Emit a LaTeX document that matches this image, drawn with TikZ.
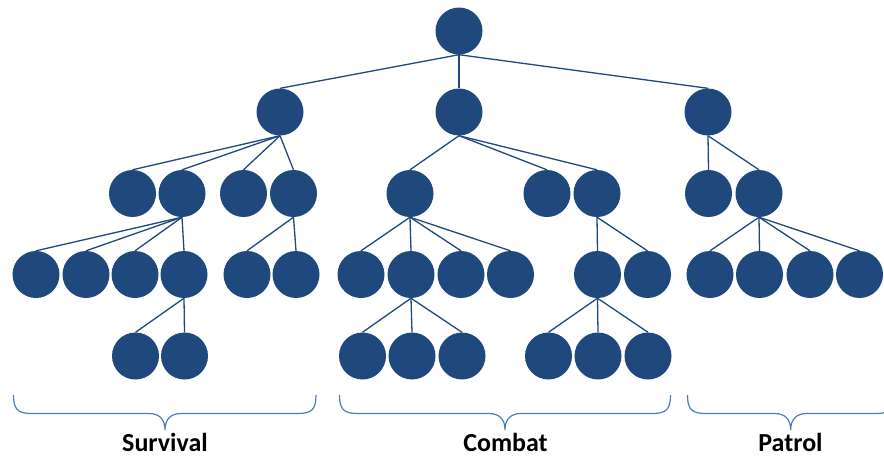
\documentclass[tikz,border=0pt]{standalone}
\usepackage{fontspec}
\setmainfont{Carlito}
\definecolor{nodeblue}{HTML}{1F497D}
\definecolor{bracblue}{HTML}{4A7EBB}
\tikzset{
  leaf/.style={circle, fill=nodeblue, minimum size=47pt, inner sep=0pt},
  link/.style={draw=nodeblue, line width=1.3pt},
  groupbrace/.style={draw=bracblue, line width=1.2pt},
  grouplabel/.style={anchor=base, font=\fontsize{26}{30}\selectfont\bfseries}
}
% curly brace opening downwards: left end, right end, tip position
\newcommand\groupbrace[3]{%
  \path[groupbrace] (#1,395) .. controls (#1,409) and (#1+4,413.5) .. (#1+18,413.5)
    -- (#3-16,413.5) .. controls (#3-5,413.5) and (#3,420) .. (#3,430)
    .. controls (#3,420) and (#3+5,413.5) .. (#3+16,413.5)
    -- (#2-18,413.5) .. controls (#2-4,413.5) and (#2,409) .. (#2,395);}
\begin{document}
\begin{tikzpicture}[x=1pt, y=-1pt]
  \clip (0,0) rectangle (884,456);
  \fill[white] (0,0) rectangle (884,456);

  % root and the three branches
  \node[leaf] (root) at (459,31) {};
  \node[leaf] (s) at (280,112) {};
  \node[leaf] (c) at (459,112) {};
  \node[leaf] (p) at (708,112) {};

  % level 2
  \node[leaf] (s1) at (132.5,193.5) {};
  \node[leaf] (s2) at (182,193.5) {};
  \node[leaf] (s3) at (243.5,193.5) {};
  \node[leaf] (s4) at (293.5,193.5) {};
  \node[leaf] (c1) at (410,193.5) {};
  \node[leaf] (c2) at (547,193.5) {};
  \node[leaf] (c3) at (597,193.5) {};
  \node[leaf] (p1) at (708.5,193.5) {};
  \node[leaf] (p2) at (759,193.5) {};

  % level 3
  \node[leaf] (s21) at (36,274.5) {};
  \node[leaf] (s22) at (86,274.5) {};
  \node[leaf] (s23) at (135,274.5) {};
  \node[leaf] (s24) at (184,274.5) {};
  \node[leaf] (s41) at (247,274.5) {};
  \node[leaf] (s42) at (296,274.5) {};
  \node[leaf] (c11) at (361,274.5) {};
  \node[leaf] (c12) at (411,274.5) {};
  \node[leaf] (c13) at (461,274.5) {};
  \node[leaf] (c14) at (510.5,274.5) {};
  \node[leaf] (c31) at (597.5,274.5) {};
  \node[leaf] (c32) at (647.5,274.5) {};
  \node[leaf] (p21) at (710,274.5) {};
  \node[leaf] (p22) at (759.5,274.5) {};
  \node[leaf] (p23) at (810,274.5) {};
  \node[leaf] (p24) at (859.5,274.5) {};

  % level 4
  \node[leaf] (s241) at (135.5,356) {};
  \node[leaf] (s242) at (184.5,356) {};
  \node[leaf] (c121) at (362.5,356) {};
  \node[leaf] (c122) at (412,356) {};
  \node[leaf] (c123) at (462,356) {};
  \node[leaf] (c311) at (548.5,356) {};
  \node[leaf] (c312) at (598,356) {};
  \node[leaf] (c313) at (648,356) {};

  % connectors: parent bottom to child top
  \foreach \a/\b in {root/s, root/c, root/p,
      s/s1, s/s2, s/s3, s/s4, c/c1, c/c2, c/c3, p/p1, p/p2,
      s2/s21, s2/s22, s2/s23, s2/s24, s4/s41, s4/s42,
      c1/c11, c1/c12, c1/c13, c1/c14, c3/c31, c3/c32,
      p2/p21, p2/p22, p2/p23, p2/p24,
      s24/s241, s24/s242, c12/c121, c12/c122, c12/c123,
      c31/c311, c31/c312, c31/c313}
    \draw[link] (\a.south) -- (\b.north);

  % group braces and their labels
  \groupbrace{13.5}{316}{165}
  \groupbrace{339.5}{670.5}{505}
  \groupbrace{687.5}{894}{790.7}
  \node[grouplabel] (lsurv) at (165,451) {Survival};
  \node[grouplabel] (lcomb) at (505.5,451) {Combat};
  \node[grouplabel] (lpat) at (790.5,451) {Patrol};
\end{tikzpicture}
\end{document}
